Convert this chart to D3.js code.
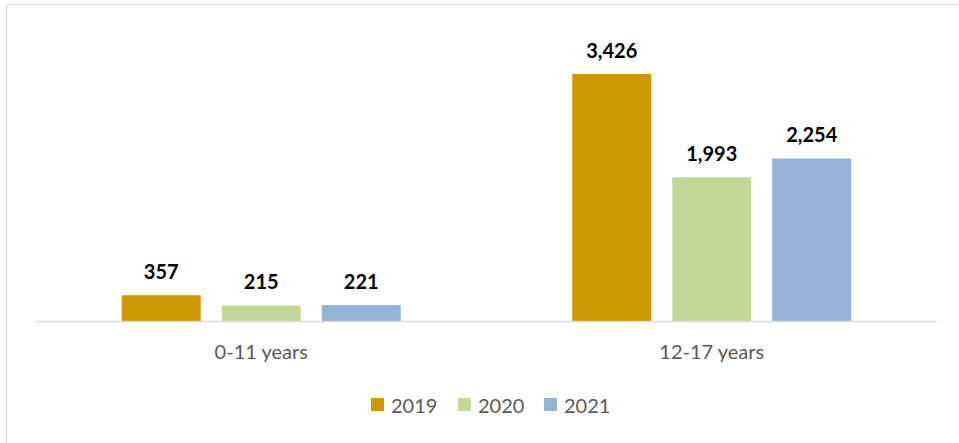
<!DOCTYPE html>
<html><head><meta charset="utf-8">
<script src="https://cdn.jsdelivr.net/npm/d3@7/dist/d3.min.js"></script>
<style>body{margin:0;background:#fff}svg{display:block}</style>
</head><body>
<script>
const categories = ["0-11 years", "12-17 years"];
const seriesNames = ["2019", "2020", "2021"];
const v2019 = [357, 3426];
const v2020 = [215, 1993];
const v2021 = [221, 2254];
const colors = ["#CC9900", "#C4D79B", "#95B3D7"];

const W = 959, H = 443;
const svg = d3.select("body").append("svg").attr("width", W).attr("height", H);
svg.append("rect").attr("x", 6.5).attr("y", 4.5).attr("width", W + 10).attr("height", H + 10)
  .attr("fill", "none").attr("stroke", "#d9d9d9").attr("stroke-width", 1);

const x0 = d3.scaleBand().domain(categories).range([36, 937]).paddingInner(0.3807).paddingOuter(0.19035);
const x1 = d3.scaleBand().domain(seriesNames).range([0, x0.bandwidth()]).paddingInner(0.21).paddingOuter(0);
const y = d3.scaleLinear().domain([0, 4000]).range([321, 32.6]);

const values = [v2019, v2020, v2021];
const data = [];
categories.forEach((c, i) => seriesNames.forEach((s, j) => data.push({c, s, v: values[j][i], color: colors[j]})));

svg.append("g").selectAll("rect").data(data).join("rect")
  .attr("x", d => x0(d.c) + x1(d.s)).attr("width", x1.bandwidth())
  .attr("y", d => y(d.v)).attr("height", d => y(0) - y(d.v)).attr("fill", d => d.color);

svg.append("line").attr("x1", 36).attr("x2", 937).attr("y1", y(0) + 0.5).attr("y2", y(0) + 0.5)
  .attr("stroke", "#d9d9d9").attr("stroke-width", 1.3);

svg.append("g").selectAll("text").data(data).join("text")
  .attr("x", d => x0(d.c) + x1(d.s) + x1.bandwidth() / 2).attr("y", d => y(d.v) - 16)
  .attr("text-anchor", "middle").attr("font-family", "Lato").attr("font-weight", "bold")
  .attr("font-size", 20).attr("fill", "#000").text(d => d3.format(",")(d.v));

svg.append("g").selectAll("text").data(categories).join("text")
  .attr("x", d => x0(d) + x0.bandwidth() / 2).attr("y", 359)
  .attr("text-anchor", "middle").attr("font-family", "Lato").attr("font-size", 20)
  .attr("fill", "#595959").text(d => d);

const legX = [371, 458, 544];
const lg = svg.append("g").selectAll("g").data(seriesNames).join("g")
  .attr("transform", (d, i) => `translate(${legX[i]},398)`);
lg.append("rect").attr("width", 13).attr("height", 13).attr("fill", (d, i) => colors[i]);
lg.append("text").attr("x", 20).attr("y", 14.5).attr("font-family", "Lato").attr("font-size", 20)
  .attr("fill", "#595959").text(d => d);
</script>
</body></html>
